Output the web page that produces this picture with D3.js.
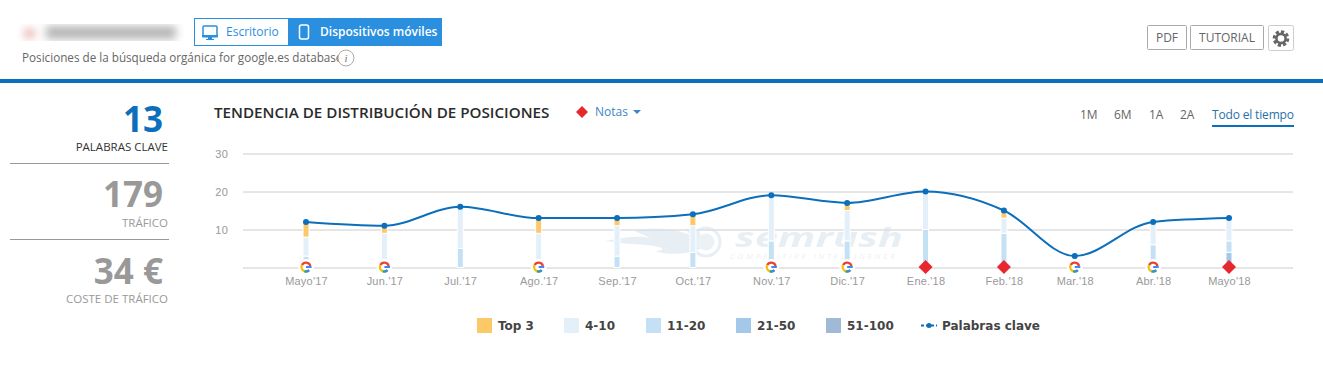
<!DOCTYPE html>
<html lang="en">
<head>
  <meta charset="utf-8">
  <title>Tendencia de distribución de posiciones</title>
  <script src="https://d3js.org/d3.v7.min.js"></script>
  <style>
    html, body { margin: 0; padding: 0; background: #fff; overflow: hidden; }
    svg { display: block; font-family: "Open Sans", sans-serif; }
    .tick text { font-size: 11px; fill: #999; letter-spacing: 0.2px; }
    .grid line { stroke: #ccc; }
    .grid path, .axis-x path, .axis-x line { display: none; }
    .btn { fill: #fff; stroke: #aaa; }
    .btn-text { font-size: 12px; fill: #666; text-anchor: middle; }
    .kpi-num { font-size: 35px; font-weight: 700; text-anchor: end; fill: #999; font-family: "Noto Sans", sans-serif; }
    .kpi-label { font-size: 11.5px; text-anchor: end; fill: #999; }
    .range { font-size: 12px; fill: #666; }
    .legend-text { font-size: 12px; font-weight: 700; fill: #444; font-family: "DejaVu Sans", sans-serif; }
  </style>
</head>
<body>
  <svg id="chart" width="1323" height="366"></svg>

  <script>
    // values
    const months = ["2017-05-01", "2017-06-01", "2017-07-01", "2017-08-01", "2017-09-01", "2017-10-01", "2017-11-01",
      "2017-12-01", "2018-01-01", "2018-02-01", "2018-03-01", "2018-04-01", "2018-05-01"];
    const monthLabels = ["Mayo'17", "Jun.'17", "Jul.'17", "Ago.'17", "Sep.'17", "Oct.'17", "Nov.'17",
      "Dic.'17", "Ene.'18", "Feb.'18", "Mar.'18", "Abr.'18", "Mayo'18"];
    const keywords = [12, 11, 16, 13, 13, 14, 19, 17, 20, 15, 3, 12, 13];
    const top3 =     [4, 2, 0, 4, 2, 3, 0, 2, 0, 2, 0, 0, 0];
    const pos4to10 = [5, 7, 11, 8, 8, 7, 12, 8, 10, 4, 3, 6, 6];
    const pos11to20 = [3, 2, 5, 1, 3, 4, 7, 7, 10, 9, 0, 6, 3];
    const pos21to50 = [0, 0, 0, 0, 0, 0, 0, 0, 0, 0, 0, 0, 4];
    const pos51to100 = [0, 0, 0, 0, 0, 0, 0, 0, 0, 0, 0, 0, 0];
    const markers = ["g", "g", "", "g", "", "", "g", "g", "n", "n", "g", "g", "n"];
    const yTicks = [10, 20, 30];

    const legendNames = ["Top 3", "4-10", "11-20", "21-50", "51-100"];
    const stackKeys = ["pos51to100", "pos21to50", "pos11to20", "pos4to10", "top3"];
    const colors = { top3: "#fbc968", pos4to10: "#e3eff9", pos11to20: "#c3e0f4", pos21to50: "#a3c8e9", pos51to100: "#9fb9d6" };
    const blue = "#0b6fbb";

    const parseDate = d3.utcParse("%Y-%m-%d");
    const dates = months.map(parseDate);
    const table = dates.map((date, i) => ({
      date, top3: top3[i], pos4to10: pos4to10[i], pos11to20: pos11to20[i],
      pos21to50: pos21to50[i], pos51to100: pos51to100[i], keywords: keywords[i], marker: markers[i]
    }));

    const svg = d3.select("#chart");
    const defs = svg.append("defs");
    defs.append("filter").attr("id", "blur").append("feGaussianBlur").attr("stdDeviation", 4);

    // page header
    const blurred = svg.append("g").attr("filter", "url(#blur)");
    blurred.append("rect").attr("x", 24).attr("y", 29).attr("width", 11).attr("height", 9).attr("fill", "#e8b4b4");
    blurred.append("rect").attr("x", 46).attr("y", 26).attr("width", 130).attr("height", 13).attr("fill", "#b5b5b5");

    svg.append("rect").attr("x", 194.5).attr("y", 18.5).attr("width", 94).attr("height", 27)
      .attr("fill", "#fff").attr("stroke", "#2a8fdf");
    svg.append("rect").attr("x", 288).attr("y", 18).attr("width", 154).attr("height", 28).attr("fill", "#2a8fdf");
    // monitor icon
    svg.append("rect").attr("x", 203).attr("y", 26).attr("width", 14).attr("height", 10).attr("rx", 1)
      .attr("fill", "#fff").attr("stroke", "#2a8fdf").attr("stroke-width", 1.5);
    svg.append("path").attr("d", "M202,35h16v1.5a1,1 0 0 1 -1,1h-14a1,1 0 0 1 -1,-1zM208,37.5h4v1.5h2v1h-8v-1h2z").attr("fill", "#2a8fdf");
    // phone icon
    svg.append("rect").attr("x", 299.5).attr("y", 25).attr("width", 9).attr("height", 14).attr("rx", 2)
      .attr("fill", "none").attr("stroke", "#fff").attr("stroke-width", 1.5);
    svg.append("text").attr("x", 226).attr("y", 36).attr("font-size", 12).attr("fill", "#2a8fdf").text("Escritorio");
    svg.append("text").attr("x", 320).attr("y", 36).attr("font-size", 12).attr("font-weight", 600).attr("fill", "#fff").text("Dispositivos móviles");
    svg.append("text").attr("x", 22).attr("y", 62).attr("font-size", 11.7).attr("fill", "#666")
      .text("Posiciones de la búsqueda orgánica for google.es database");
    svg.append("circle").attr("cx", 346).attr("cy", 58).attr("r", 8).attr("fill", "#fff").attr("stroke", "#aaa");
    svg.append("text").attr("x", 346).attr("y", 62).attr("font-size", 11).attr("font-style", "italic")
      .attr("font-family", "Liberation Serif").attr("text-anchor", "middle").attr("fill", "#777").text("i");
    svg.append("rect").attr("x", 0).attr("y", 79).attr("width", 1323).attr("height", 4).attr("fill", blue);

    // buttons top right
    const buttons = [["PDF", 1147, 40], ["TUTORIAL", 1190, 74]];
    buttons.forEach(([label, x, w]) => {
      svg.append("rect").attr("class", "btn").attr("x", x + 0.5).attr("y", 25.5).attr("width", w - 1).attr("height", 24).attr("rx", 1);
      svg.append("text").attr("class", "btn-text").attr("x", x + w / 2).attr("y", 42).text(label);
    });
    svg.append("rect").attr("x", 1268.5).attr("y", 25.5).attr("width", 25).attr("height", 25).attr("rx", 2)
      .attr("fill", "#fff").attr("stroke", "#ccc");
    svg.append("circle").attr("cx", 1281).attr("cy", 38.5).attr("r", 6.8).attr("fill", "none").attr("stroke", "#666")
      .attr("stroke-width", 3).attr("stroke-dasharray", "3.2 2.1");
    svg.append("circle").attr("cx", 1281).attr("cy", 38.5).attr("r", 4.6).attr("fill", "none").attr("stroke", "#666").attr("stroke-width", 2.6);

    // KPI column
    const kpis = [
      ["13", "PALABRAS CLAVE", 132, 151, blue, "#333"],
      ["179", "TRÁFICO", 207, 227, "#999", "#999"],
      ["34 €", "COSTE DE TRÁFICO", 284, 303, "#999", "#999"]
    ];
    kpis.forEach(([num, label, y1, y2, c1, c2]) => {
      svg.append("text").attr("class", "kpi-num").attr("x", 163).attr("y", y1).attr("fill", c1).style("fill", c1).text(num);
      svg.append("text").attr("class", "kpi-label").attr("x", 168).attr("y", y2).style("fill", c2).text(label);
    });
    [163.5, 239.5].forEach(y => svg.append("line").attr("x1", 10).attr("x2", 169).attr("y1", y).attr("y2", y).attr("stroke", "#999"));

    // chart heading
    svg.append("text").attr("x", 214).attr("y", 118).attr("font-size", 15.2).attr("font-weight", 600).attr("fill", "#2b2b2b")
      .text("TENDENCIA DE DISTRIBUCIÓN DE POSICIONES");
    const diamond = d3.symbol().type(d3.symbolSquare);
    svg.append("path").attr("d", diamond.size(72)()).attr("fill", "#e8262d").attr("transform", "translate(582,112) rotate(45)");
    svg.append("text").attr("x", 595).attr("y", 116).attr("font-size", 12).attr("fill", "#3d85c6").text("Notas");
    svg.append("path").attr("d", "M633,110h8l-4,4z").attr("fill", "#3d85c6");

    const ranges = [["1M", 1080], ["6M", 1114], ["1A", 1149], ["2A", 1180]];
    ranges.forEach(([t, x]) => svg.append("text").attr("class", "range").attr("x", x).attr("y", 119).text(t));
    svg.append("text").attr("class", "range").attr("x", 1212).attr("y", 119).style("fill", "#2a6fa8").attr("textLength", 82).text("Todo el tiempo");
    svg.append("rect").attr("x", 1212).attr("y", 125).attr("width", 82).attr("height", 2).attr("fill", blue);

    // scales and axes
    const x = d3.scaleUtc().domain([dates[0], dates[dates.length - 1]]).range([306, 1229]);
    const y = d3.scaleLinear().domain([0, 30]).range([267.5, 153.5]);

    svg.append("g").attr("class", "grid")
      .attr("transform", "translate(243,0)")
      .call(d3.axisLeft(y).tickValues([0, ...yTicks]).tickSize(-1050).tickPadding(15).tickFormat(d => d === 0 ? "" : d));

    // watermark
    const wm = svg.append("g").attr("opacity", 0.55);
    wm.append("path").attr("fill", "#d6e2ec")
      .attr("d", "M605,241 C630,236 640,236 650,238 C640,232 625,230 645,229 C665,228 680,230 692,236 C680,226 690,228 700,232 L702,248 C690,254 670,256 655,251 C670,250 660,246 645,245 C630,244 620,243 605,241Z");
    wm.append("circle").attr("cx", 706).attr("cy", 242).attr("r", 14).attr("fill", "none").attr("stroke", "#d6e2ec").attr("stroke-width", 3);
    wm.append("circle").attr("cx", 706).attr("cy", 242).attr("r", 8.5).attr("fill", "#dde7ef");
    wm.append("text").attr("x", 735).attr("y", 247).attr("font-size", 27).attr("font-weight", 700).attr("font-style", "italic")
      .attr("fill", "#d6e2ec").attr("textLength", 168).attr("lengthAdjust", "spacingAndGlyphs").text("semrush");
    wm.append("text").attr("x", 730).attr("y", 259).attr("font-size", 8).attr("font-style", "italic")
      .attr("fill", "#d6e2ec").attr("textLength", 165).text("COMPETITIVE INTELLIGENCE");

    svg.append("g").attr("class", "axis-x")
      .attr("transform", "translate(0,267)")
      .call(d3.axisBottom(x).tickValues(dates).tickSize(0).tickPadding(10).tickFormat((d, i) => monthLabels[i]));

    // stacked columns
    const stacked = d3.stack().keys(stackKeys)(table);
    svg.append("g").selectAll("g").data(stacked).join("g")
      .attr("fill", s => colors[s.key])
      .selectAll("rect").data(s => s.filter(d => d[1] > d[0])).join("rect")
        .attr("x", d => x(d.data.date) - 3)
        .attr("width", 6)
        .attr("y", d => y(d[1]))
        .attr("height", d => y(d[0]) - y(d[1]))
        .attr("stroke", "#fff")
        .attr("stroke-width", 1);

    // keyword line
    const line = d3.line().x(d => x(d.date)).y(d => y(d.keywords)).curve(d3.curveMonotoneX);
    svg.append("path").datum(table).attr("d", line).attr("fill", "none").attr("stroke", blue).attr("stroke-width", 2);
    svg.append("g").selectAll("circle").data(table).join("circle")
      .attr("cx", d => x(d.date)).attr("cy", d => y(d.keywords)).attr("r", 3).attr("fill", blue);

    // google and note markers on the baseline
    const arc = d3.arc().innerRadius(3.3).outerRadius(5.6);
    const gParts = [
      ["#ea4335", -0.72, 0.85],
      ["#fbbc05", -1.75, -0.72],
      ["#34a853", -2.5 + 0, -1.75],
    ];
    const marks = svg.append("g").selectAll("g").data(table.filter(d => d.marker)).join("g")
      .attr("transform", d => `translate(${x(d.date)},267)`);
    marks.filter(d => d.marker === "n").append("path")
      .attr("d", diamond.size(98)()).attr("transform", "rotate(45)").attr("fill", "#e8262d");
    const gIcon = marks.filter(d => d.marker === "g");
    gIcon.append("circle").attr("r", 8).attr("fill", "#fff");
    gParts.forEach(([c, a0, a1]) => {
      gIcon.append("path").attr("fill", c).attr("d", arc({ startAngle: a0 * Math.PI / 2, endAngle: a1 * Math.PI / 2 }));
    });
    gIcon.append("path").attr("fill", "#4285f4")
      .attr("d", arc({ startAngle: 0.55 * Math.PI / 2 + Math.PI / 2, endAngle: Math.PI }) + "M0,-1.1h5.6v2.2h-5.6z");

    // legend
    const legendX = [477, 564, 646, 736, 826];
    const legendKeys = ["top3", "pos4to10", "pos11to20", "pos21to50", "pos51to100"];
    legendNames.forEach((name, i) => {
      svg.append("rect").attr("x", legendX[i]).attr("y", 318).attr("width", 15).attr("height", 15).attr("fill", colors[legendKeys[i]]);
      svg.append("text").attr("class", "legend-text").attr("x", legendX[i] + 21).attr("y", 330).text(name);
    });
    svg.append("line").attr("x1", 921).attr("x2", 937).attr("y1", 325.5).attr("y2", 325.5)
      .attr("stroke", blue).attr("stroke-width", 2).attr("stroke-dasharray", "3 2");
    svg.append("circle").attr("cx", 929).attr("cy", 325.5).attr("r", 2.5).attr("fill", blue);
    svg.append("text").attr("class", "legend-text").attr("x", 942).attr("y", 330).text("Palabras clave");
  </script>
</body>
</html>
